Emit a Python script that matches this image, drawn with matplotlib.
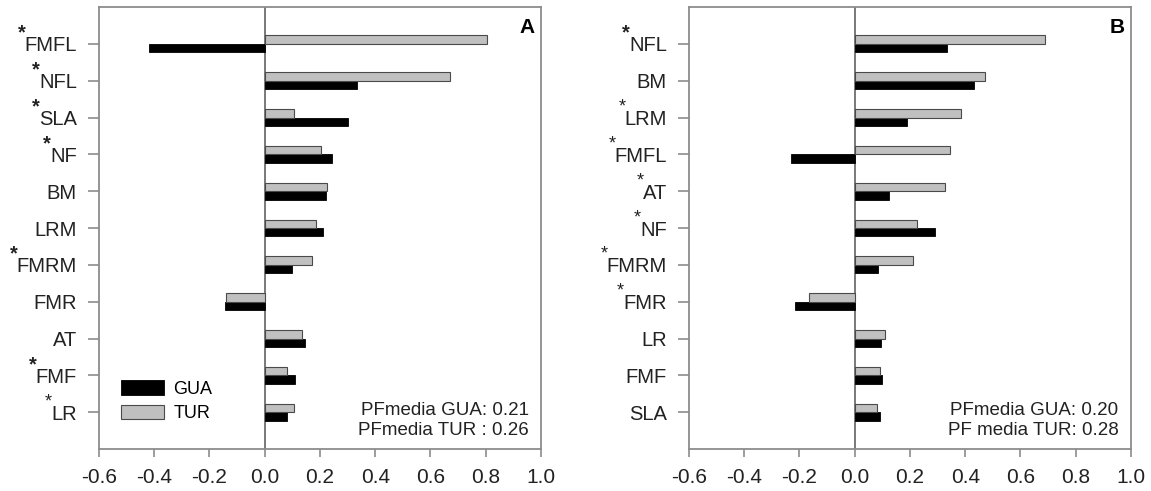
import matplotlib
matplotlib.use("Agg")
import matplotlib.pyplot as plt
import matplotlib.transforms as mtransforms

plt.rcParams['font.family'] = ['Liberation Sans', 'DejaVu Sans']

# panel A  (star: 0 = none, 1 = thin asterisk, 2 = bold asterisk)
cats_a = ['FMFL', 'NFL', 'SLA', 'NF', 'BM', 'LRM', 'FMRM', 'FMR', 'AT', 'FMF', 'LR']
star_a = [2, 2, 2, 2, 0, 0, 2, 0, 0, 2, 1]
gua_a = [-0.42, 0.335, 0.30, 0.245, 0.22, 0.21, 0.10, -0.145, 0.145, 0.11, 0.08]
tur_a = [0.805, 0.67, 0.105, 0.205, 0.225, 0.185, 0.17, -0.14, 0.135, 0.08, 0.105]
note_a = ['PFmedia GUA: 0.21', 'PFmedia TUR : 0.26']

# panel B
cats_b = ['NFL', 'BM', 'LRM', 'FMFL', 'AT', 'NF', 'FMRM', 'FMR', 'LR', 'FMF', 'SLA']
star_b = [2, 0, 1, 1, 1, 1, 1, 1, 0, 0, 0]
gua_b = [0.335, 0.43, 0.19, -0.23, 0.125, 0.29, 0.085, -0.215, 0.095, 0.10, 0.09]
tur_b = [0.69, 0.47, 0.385, 0.345, 0.325, 0.225, 0.21, -0.165, 0.11, 0.09, 0.08]
note_b = ['PFmedia GUA: 0.20', 'PF media TUR: 0.28']

xticks = [-0.6, -0.4, -0.2, 0.0, 0.2, 0.4, 0.6, 0.8, 1.0]

fig = plt.figure(figsize=(11.51, 4.91), dpi=100)
ax_a = fig.add_axes([0.0860, 0.0855, 0.3840, 0.9002])
ax_b = fig.add_axes([0.5986, 0.0855, 0.3840, 0.9002])

h = 0.23
spine_col = '#8c8c8c'
ylab_size = 14.5


def draw_panel(ax, cats, gua, tur, notes, letter, legend=False):
    pos = list(range(len(cats)))
    ax.barh([p + h / 2 for p in pos], gua, height=h, color='black',
            edgecolor='black', linewidth=0.6, label='GUA', zorder=3)
    ax.barh([p - h / 2 for p in pos], tur, height=h, color='#c0c0c0',
            edgecolor='#4a4a4a', linewidth=0.8, label='TUR', zorder=3)
    ax.axvline(0, color='#555555', lw=1.1, zorder=2)

    ax.set_xlim(-0.6, 1.0)
    ax.set_ylim(11, -1)
    ax.set_xticks(xticks)
    ax.set_xticklabels(['%.1f' % t for t in xticks], fontsize=15, color='#222222')
    ax.set_yticks(pos)
    ax.set_yticklabels(cats, fontsize=ylab_size, color='#222222')
    ax.tick_params(axis='y', length=8, width=1.2, color=spine_col, pad=8)
    ax.tick_params(axis='x', length=6, width=1.2, color=spine_col, pad=8)
    for sp in ax.spines.values():
        sp.set_color(spine_col)
        sp.set_linewidth(1.3)

    ax.text(0.985, 0.975, letter, transform=ax.transAxes, ha='right', va='top',
            fontsize=15, fontweight='bold')
    ax.text(0.955, 9.95, notes[0], ha='right', va='center', fontsize=13.5, color='#222222')
    ax.text(0.955, 10.5, notes[1], ha='right', va='center', fontsize=13.5, color='#222222')

    if legend:
        handles, lbls = ax.get_legend_handles_labels()
        ax.legend(handles, lbls, loc='lower left', bbox_to_anchor=(0.05, 0.06),
                  frameon=False, fontsize=13, handlelength=2.4, handleheight=0.85,
                  labelspacing=0.4, borderpad=0, borderaxespad=0, handletextpad=0.5)


def add_stars(ax, stars):
    # raised asterisk just before each flagged tick label
    renderer = fig.canvas.get_renderer()
    to_axes = ax.transAxes.inverted()
    blend = mtransforms.blended_transform_factory(ax.transAxes, ax.transData)
    for lbl, s in zip(ax.get_yticklabels(), stars):
        if not s:
            continue
        bb = lbl.get_window_extent(renderer)
        xa = to_axes.transform((bb.x0 + 1, 0))[0]
        y = lbl.get_position()[1]
        tr = mtransforms.offset_copy(blend, fig=fig, x=0, y=9, units='points')
        ax.text(xa, y, '*', transform=tr, ha='right', va='center_baseline',
                fontsize=ylab_size if s == 2 else 13,
                fontweight='bold' if s == 2 else 'normal',
                color='#222222', clip_on=False)


draw_panel(ax_a, cats_a, gua_a, tur_a, note_a, 'A', legend=True)
draw_panel(ax_b, cats_b, gua_b, tur_b, note_b, 'B')
fig.canvas.draw()
add_stars(ax_a, star_a)
add_stars(ax_b, star_b)

fig.savefig('out.png', dpi=100)
